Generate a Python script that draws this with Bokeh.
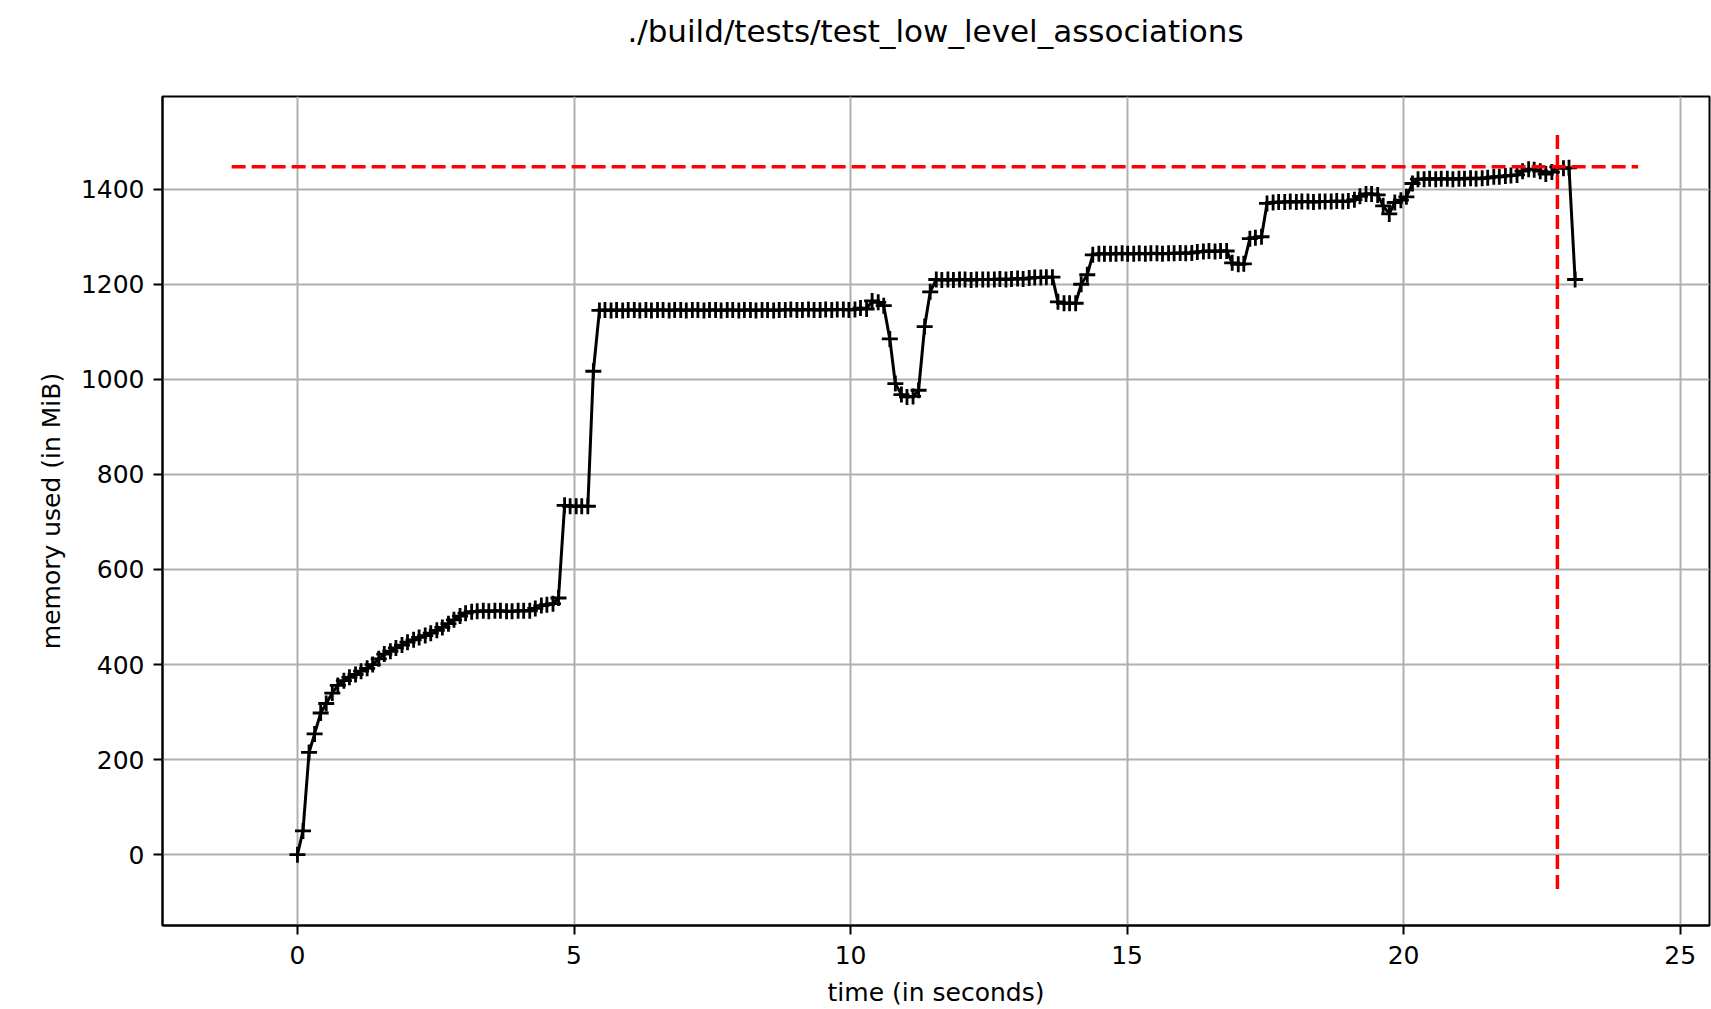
from bokeh.plotting import figure
from bokeh.models import Range1d, FixedTicker, Div
from bokeh.layouts import column
from bokeh.embed import file_html
from bokeh.resources import INLINE

# ---- data ----
times = [
    0.00, 0.10, 0.21, 0.31, 0.42, 0.52, 0.63, 0.73, 0.84, 0.94,
    1.05, 1.15, 1.26, 1.36, 1.47, 1.57, 1.68, 1.78, 1.89, 1.99,
    2.10, 2.20, 2.31, 2.41, 2.52, 2.62, 2.73, 2.83, 2.94, 3.04,
    3.15, 3.25, 3.36, 3.46, 3.57, 3.67, 3.78, 3.88, 3.99, 4.09,
    4.20, 4.30, 4.41, 4.51, 4.62, 4.72, 4.83, 4.93, 5.04, 5.14,
    5.25, 5.35, 5.46, 5.56, 5.67, 5.77, 5.88, 5.98, 6.09, 6.19,
    6.30, 6.40, 6.51, 6.61, 6.72, 6.82, 6.93, 7.03, 7.14, 7.24,
    7.35, 7.45, 7.56, 7.66, 7.77, 7.87, 7.98, 8.08, 8.19, 8.29,
    8.40, 8.50, 8.61, 8.71, 8.82, 8.92, 9.03, 9.13, 9.24, 9.34,
    9.45, 9.55, 9.66, 9.76, 9.87, 9.97, 10.08, 10.18, 10.29, 10.39,
    10.50, 10.60, 10.71, 10.81, 10.92, 11.02, 11.13, 11.23, 11.34, 11.44,
    11.55, 11.65, 11.76, 11.86, 11.97, 12.07, 12.18, 12.28, 12.39, 12.49,
    12.60, 12.70, 12.81, 12.91, 13.02, 13.12, 13.23, 13.33, 13.44, 13.54,
    13.65, 13.75, 13.86, 13.96, 14.07, 14.17, 14.28, 14.38, 14.49, 14.59,
    14.70, 14.80, 14.91, 15.01, 15.12, 15.22, 15.33, 15.43, 15.54, 15.64,
    15.75, 15.85, 15.96, 16.06, 16.17, 16.27, 16.38, 16.48, 16.59, 16.69,
    16.80, 16.90, 17.01, 17.11, 17.22, 17.32, 17.43, 17.53, 17.64, 17.74,
    17.85, 17.95, 18.06, 18.16, 18.27, 18.37, 18.48, 18.58, 18.69, 18.79,
    18.90, 19.00, 19.11, 19.21, 19.32, 19.42, 19.53, 19.63, 19.74, 19.84,
    19.95, 20.05, 20.16, 20.26, 20.37, 20.47, 20.58, 20.68, 20.79, 20.89,
    21.00, 21.10, 21.21, 21.31, 21.42, 21.52, 21.63, 21.73, 21.84, 21.94,
    22.05, 22.15, 22.26, 22.36, 22.47, 22.57, 22.68, 22.78, 22.89, 22.99,
    23.10,
]

memory_mib = [
    0, 50, 215, 254, 298, 318, 340, 356, 366, 373,
    379, 386, 392, 400, 412, 422, 428, 435, 441, 447,
    452, 457, 461, 466, 472, 478, 486, 494, 502, 508,
    511, 512, 513, 512, 513, 513, 512, 512, 513, 513,
    513, 518, 524, 526, 528, 540, 735, 733, 733, 733,
    733, 1017, 1145, 1146, 1145, 1146, 1145, 1146, 1146, 1145,
    1146, 1145, 1146, 1146, 1145, 1146, 1146, 1145, 1146, 1146,
    1145, 1146, 1146, 1145, 1146, 1146, 1145, 1146, 1146, 1145,
    1146, 1146, 1145, 1146, 1146, 1147, 1146, 1146, 1147, 1146,
    1146, 1147, 1146, 1147, 1147, 1146, 1147, 1150, 1148, 1165,
    1162, 1155, 1085, 991, 968, 963, 964, 977, 1111, 1184,
    1210, 1209, 1210, 1209, 1210, 1210, 1209, 1210, 1210, 1210,
    1210, 1211, 1210, 1211, 1212, 1211, 1213, 1214, 1214, 1215,
    1215, 1163, 1160, 1160, 1160, 1200, 1220, 1262, 1264, 1264,
    1264, 1264, 1265, 1264, 1264, 1265, 1264, 1265, 1265, 1264,
    1265, 1265, 1266, 1265, 1266, 1268, 1269, 1270, 1269, 1270,
    1270, 1245, 1242, 1243, 1296, 1298, 1300, 1370, 1372, 1373,
    1373, 1374, 1373, 1374, 1374, 1373, 1374, 1374, 1374, 1375,
    1374, 1375, 1378, 1385, 1390, 1390, 1388, 1365, 1348, 1372,
    1377, 1384, 1412, 1421, 1421, 1422, 1421, 1422, 1422, 1421,
    1422, 1422, 1423, 1422, 1423, 1424, 1426, 1426, 1428, 1429,
    1430, 1438, 1442, 1441, 1438, 1432, 1436, 1447, 1444, 1445,
    1210,
]

x_ticks = [0, 5, 10, 15, 20, 25]
y_ticks = [0, 200, 400, 600, 800, 1000, 1200, 1400]

title_text = "./build/tests/test_low_level_associations"
x_label = "time (in seconds)"
y_label = "memory used (in MiB)"

# extents of the max-memory guide lines (matplotlib axis limits at the time they were drawn)
hline_x = [-1.19, 24.24]
vline_y = [-72, 1518]

max_mem = max(memory_mib)
max_idx = memory_mib.index(max_mem)
max_t = times[max_idx]

FONT = "DejaVu Sans"

W, H = 1711, 1009
TITLE_H = 62
BORDER_L, BORDER_R, BORDER_T, BORDER_B = 162, 2, 96 - TITLE_H, 84
frame_w = W - BORDER_L - BORDER_R

title_div = Div(
    text=title_text,
    width=frame_w, height=TITLE_H,
    margin=(0, BORDER_R, 0, BORDER_L),
    styles={
        "font-family": FONT,
        "font-size": "31px",
        "line-height": f"{TITLE_H}px",
        "text-align": "center",
        "color": "#000000",
        "white-space": "nowrap",
    },
)

p = figure(
    width=W, height=H - TITLE_H,
    output_backend="svg", toolbar_location=None,
    x_range=Range1d(-2.44, 25.53), y_range=Range1d(-149, 1595),
    min_border_left=BORDER_L, min_border_right=BORDER_R,
    min_border_top=BORDER_T, min_border_bottom=BORDER_B,
    margin=0,
)
p.background_fill_color = "white"
p.border_fill_color = "white"
p.outline_line_color = "black"
p.outline_line_width = 2

for ax in (p.xaxis[0], p.yaxis[0]):
    ax.axis_line_color = "black"
    ax.axis_line_width = 2
    ax.major_tick_line_color = "black"
    ax.major_tick_line_width = 2
    ax.major_tick_out = 9
    ax.major_tick_in = 0
    ax.minor_tick_out = 0
    ax.minor_tick_in = 0
    ax.major_label_text_font = FONT
    ax.major_label_text_font_size = "25px"
    ax.major_label_text_color = "#000000"
    ax.axis_label_text_font = FONT
    ax.axis_label_text_font_size = "25px"
    ax.axis_label_text_font_style = "normal"
    ax.axis_label_text_color = "#000000"

p.xaxis.ticker = FixedTicker(ticks=x_ticks)
p.yaxis.ticker = FixedTicker(ticks=y_ticks)
p.xaxis.axis_label = x_label
p.yaxis.axis_label = y_label
p.xaxis.major_label_standoff = 11
p.yaxis.major_label_standoff = 9
p.xaxis.axis_label_standoff = 11
p.yaxis.axis_label_standoff = 12

p.xgrid.ticker = FixedTicker(ticks=x_ticks)
p.ygrid.ticker = FixedTicker(ticks=y_ticks)
p.grid.grid_line_color = "#b0b0b0"
p.grid.grid_line_width = 2

# memory curve with '+' markers
p.line(times, memory_mib, line_color="black", line_width=3)
p.scatter(times, memory_mib, marker="cross", size=16, line_color="black", line_width=2.8)

# max-memory guides
p.line(hline_x, [max_mem, max_mem], line_color="red", line_width=3.5, line_dash="14 6")
p.line([max_t, max_t], vline_y, line_color="red", line_width=3.5, line_dash="14 6")

layout = column(title_div, p, spacing=0, margin=0)

open("out.html", "w").write(file_html(layout, INLINE))
